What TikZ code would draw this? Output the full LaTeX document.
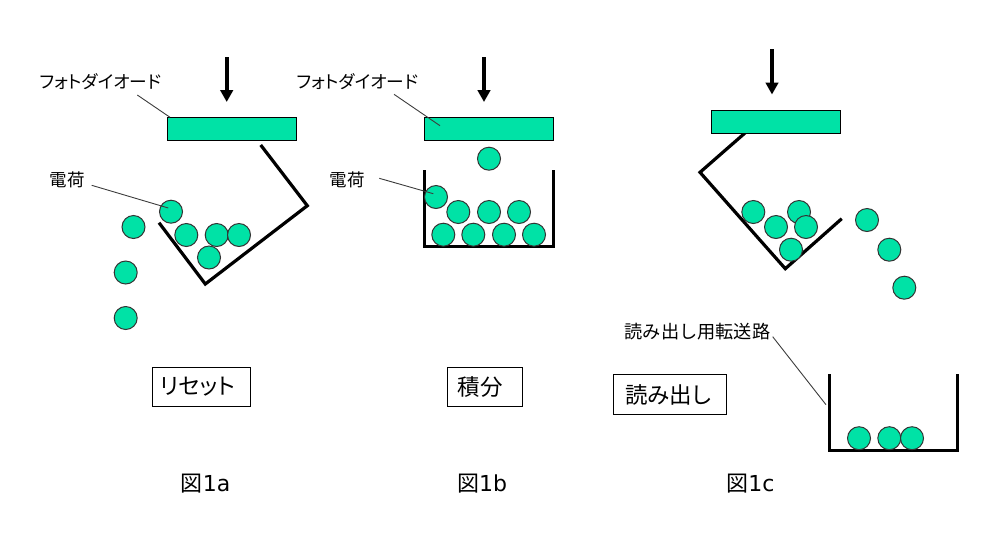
\documentclass[tikz,border=0pt]{standalone}
\usepackage{fontspec}
\usetikzlibrary{arrows.meta}
\setmainfont{DejaVu Sans}
\newfontfamily\jpfont[RawFeature=+palt]{Noto Sans CJK JP}
\newfontfamily\jpplain{Noto Sans CJK JP}
\definecolor{charge}{RGB}{0,226,166}
\definecolor{leadgray}{RGB}{60,60,60}
\tikzset{
  ball/.style={circle,draw=black!80,line width=1pt,fill=charge,minimum size=23pt,inner sep=0pt},
  diode/.style={rectangle,draw=black,line width=1pt,fill=charge,minimum width=129.5pt,minimum height=23pt,inner sep=0pt},
  well/.style={draw=black,line width=3.2pt,line cap=butt,line join=miter},
  light/.style={draw=black,line width=4pt,-{Triangle[length=12pt,width=12.5pt]}},
  leader/.style={draw=leadgray,line width=0.9pt},
  lbl/.style={inner sep=0pt,font=\fontsize{17.7}{20}\selectfont\jpfont},
  modebox/.style={rectangle,draw=black,line width=1pt,inner sep=0pt,fill=white},
  modetext/.style={inner sep=0pt,font=\fontsize{22.5}{24}\selectfont\jpfont},
  figlabel/.style={inner sep=0pt,font=\fontsize{22}{24}\selectfont}
}
\begin{document}
\begin{tikzpicture}[x=1pt,y=-1pt]
\useasboundingbox (0,0) rectangle (1000,550);
% ---- Fig 1a
\coordinate (a1) at (260.7,145);
\coordinate (a2) at (307.3,205.7);
\coordinate (a3) at (205.3,284);
\coordinate (a4) at (159,222.7);
\draw[well] (a1) -- (a2) -- (a3) -- (a4);
\node[diode] (da) at (232,128.8) {};
\coordinate (ta) at (226.7,57);
\coordinate (tb) at (226.7,102);
\draw[light] (ta) -- (tb);
\node[ball] (a5) at (133.5,227) {};
\node[ball] (a6) at (125.7,272.5) {};
\node[ball] (a7) at (125.7,318) {};
\node[ball] (a8) at (186.3,235) {};
\node[ball] (a9) at (216.7,235) {};
\node[ball] (a10) at (239,235) {};
\node[ball] (a11) at (209,257.5) {};
\node[ball] (a12) at (171,211.7) {};
\node[lbl] (la) at (100.5,81.5) {フォトダイオード};
\node[lbl,font=\fontsize{17.5}{18}\selectfont\jpplain] (qa) at (67,180) {電荷};
\coordinate (la1) at (137.3,95);
\coordinate (la2) at (170,117.3);
\draw[leader] (la1) -- (la2);
\coordinate (qa1) at (91.7,185.3);
\coordinate (qa2) at (168.3,208);
\draw[leader] (qa1) -- (qa2);
\node[modebox,minimum width=98pt,minimum height=38.6pt] (ba) at (201.3,387) {};
\node[modetext] (bat) at (197.5,386.5) {リセット};
\node[figlabel] (fa) at (205.5,484) {{\jpplain 図}1a};
% ---- Fig 1b
\draw[well] (424.7,170) -- (424.7,246.3) -- (553.7,246.3) -- (553.7,170);
\node[diode] (db) at (489,128.8) {};
\coordinate (tc) at (484,57);
\coordinate (td) at (484,102);
\draw[light] (tc) -- (td);
\node[ball] (b1) at (489,158.7) {};
\node[ball] (b2) at (436,197) {};
\node[ball] (b3) at (458.3,212) {};
\node[ball] (b4) at (489,212) {};
\node[ball] (b5) at (519,212) {};
\node[ball] (b6) at (443.3,234.7) {};
\node[ball] (b7) at (473.3,234.7) {};
\node[ball] (b8) at (504,234.7) {};
\node[ball] (b9) at (534,234.7) {};
\node[lbl] (lb) at (357.5,81.5) {フォトダイオード};
\node[lbl,font=\fontsize{17.5}{18}\selectfont\jpplain] (qb) at (347,180) {電荷};
\coordinate (lb1) at (394,94.3);
\coordinate (lb2) at (440,125.7);
\draw[leader] (lb1) -- (lb2);
\coordinate (qb1) at (379.3,178.3);
\coordinate (qb2) at (433.3,193.7);
\draw[leader] (qb1) -- (qb2);
\node[modebox,minimum width=75.4pt,minimum height=38.6pt] (bb) at (485,387) {};
\node[modetext] (bbt) at (480.3,386.5) {積分};
\node[figlabel] (fb) at (482,484) {{\jpplain 図}1b};
% ---- Fig 1c
\coordinate (c1) at (745.3,132.7);
\coordinate (c2) at (700,172.3);
\coordinate (c3) at (785.3,268.7);
\coordinate (c4) at (841.7,218.7);
\draw[well] (c1) -- (c2) -- (c3) -- (c4);
\node[diode] (dc) at (775.8,121.5) {};
\coordinate (te) at (772,49);
\coordinate (tf) at (772,94.5);
\draw[light] (te) -- (tf);
\node[ball] (c5) at (753.3,212) {};
\node[ball] (c6) at (799,212) {};
\node[ball] (c7) at (776,227) {};
\node[ball] (c8) at (806,227) {};
\node[ball] (c9) at (791,249.7) {};
\node[ball] (c10) at (867,220) {};
\node[ball] (c11) at (889.3,249.7) {};
\node[ball] (c12) at (904.3,287.7) {};
% transfer path
\draw[well] (829.7,374) -- (829.7,450.3) -- (957.7,450.3) -- (957.7,374);
\node[ball] (c13) at (859,438.2) {};
\node[ball] (c14) at (889.3,438.2) {};
\node[ball] (c15) at (912,438.2) {};
\node[lbl,font=\fontsize{18.2}{20}\selectfont\jpplain] (lc) at (697.5,331.5) {読み出し用転送路};
\coordinate (lc1) at (772.7,336.7);
\coordinate (lc2) at (826,404.7);
\draw[leader] (lc1) -- (lc2);
\node[modebox,minimum width=113.4pt,minimum height=40pt] (bc) at (670,394.3) {};
\node[modetext] (bct) at (668.3,395) {読み出し};
\node[figlabel] (fc) at (750.3,484) {{\jpplain 図}1c};
\end{tikzpicture}
\end{document}
